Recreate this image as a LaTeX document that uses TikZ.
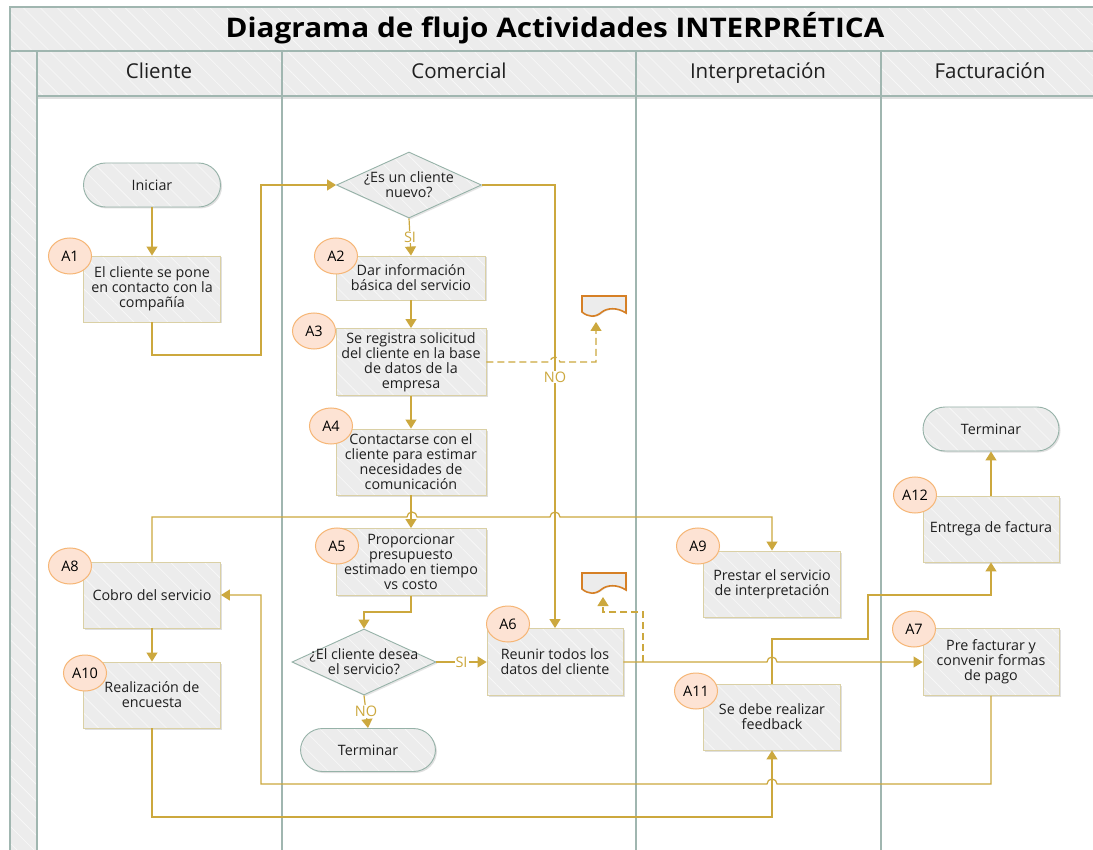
\documentclass[tikz,border=0pt]{standalone}
\usepackage{fontspec}
\setmainfont{Open Sans}
\newfontfamily\titlefont[FakeStretch=1.1]{Open Sans}
\usetikzlibrary{arrows.meta,shapes.geometric,shadows,patterns.meta}
\definecolor{gold}{RGB}{204,168,62}
\definecolor{laneline}{RGB}{160,182,176}
\definecolor{hdrfill}{RGB}{236,236,236}
\definecolor{boxfill}{RGB}{236,236,236}
\definecolor{boxline}{RGB}{218,208,165}
\definecolor{termline}{RGB}{150,178,168}
\definecolor{badgefill}{RGB}{253,227,212}
\definecolor{badgeline}{RGB}{246,182,118}
\definecolor{docline}{RGB}{214,128,38}
\tikzset{
  hatch/.style={preaction={fill=#1}, pattern={Lines[angle=-45,distance=12pt,line width=0.6pt]}, pattern color=white!70!#1},
  txt/.style={font=\fontsize{14.3}{15}\selectfont, align=center, text=black!88},
  stepbox/.style={txt, drop shadow={opacity=0.25, shadow xshift=1.5pt, shadow yshift=-1.5pt}, hatch=boxfill, draw=boxline, line width=0.9pt, minimum width=137pt, minimum height=66pt, inner sep=2pt},
  termbox/.style={txt, drop shadow={opacity=0.25, shadow xshift=1.5pt, shadow yshift=-1.5pt}, hatch=boxfill, draw=termline, line width=0.9pt, rounded corners=22pt, minimum width=137pt, minimum height=44pt},
  decbox/.style={diamond, drop shadow={opacity=0.2, shadow xshift=1.5pt, shadow yshift=-1.5pt}, hatch=boxfill, draw=termline, line width=0.9pt, minimum width=145pt, minimum height=66pt, inner sep=0pt},
  badge/.style={ellipse, fill=badgefill, draw=badgeline, line width=1pt, minimum width=43pt, minimum height=36pt, inner sep=0pt, font=\fontsize{14.5}{15}\selectfont},
  conn/.style={draw=gold, line width=1.2pt, -{Triangle[width=11pt,length=9pt]}},
  dashconn/.style={conn, dashed, dash pattern=on 7pt off 4pt},
  lbl/.style={fill=white, text=gold, inner sep=1pt, font=\fontsize{14.5}{15}\selectfont},
  docshape/.style={draw=docline, line width=1.6pt, fill=boxfill, drop shadow={opacity=0.2, shadow xshift=1pt, shadow yshift=-1pt}},
  lanehdr/.style={font=\fontsize{20.5}{22}\selectfont, text=black!88, anchor=base},
}
\begin{document}
\begin{tikzpicture}[x=1pt,y=-1pt]
\useasboundingbox (0,0) rectangle (1093,850);
\clip (0,0) rectangle (1093,850);
\fill[white] (0,0) rectangle (1093,850);
% frame
\path[hatch=hdrfill, draw=laneline, line width=1.2pt] (10,7) rectangle (1110,51);
\path[hatch=hdrfill, draw=laneline, line width=1.2pt] (10,51) rectangle (37,870);
\fill[black, opacity=0.12] (37,96) rectangle (1110,99);
\path[hatch=hdrfill, draw=laneline, line width=1.2pt] (37,51) rectangle (1110,96);
\foreach \xx in {37,282,636,881} \draw[laneline, line width=1.5pt] (\xx,51) -- (\xx,870);
\node[font=\titlefont\fontsize{27}{30}\selectfont\bfseries, anchor=base] (title) at (555,38) {Diagrama de flujo Actividades INTERPRÉTICA};
\node[lanehdr] (h1) at (159,79) {Cliente};
\node[lanehdr] (h2) at (459,79) {Comercial};
\node[lanehdr] (h3) at (758,79) {Interpretación};
\node[lanehdr] (h4) at (990,79) {Facturación};

% nodes
\node[termbox] (S) at (152,185) {Iniciar};
\node[stepbox] (A1) at (152,289) {El cliente se pone\\en contacto con la\\compañía};
\node[decbox] (D1) at (409,185) {};
\node[txt] (D1t) at (D1) {¿Es un cliente\\nuevo?};
\node[stepbox, minimum width=149pt, minimum height=44pt] (A2) at (411,278) {Dar información\\básica del servicio};
\node[stepbox, minimum width=150pt, minimum height=67pt] (A3) at (411,362) {Se registra solicitud\\del cliente en la base\\de datos de la\\empresa};
\node[stepbox, minimum width=150pt, minimum height=66pt] (A4) at (411,462) {Contactarse con el\\cliente para estimar\\necesidades de\\comunicación};
\node[stepbox, minimum width=150pt, minimum height=67pt] (A5) at (411,562) {Proporcionar\\presupuesto\\estimado en tiempo\\vs costo};
\node[decbox, minimum width=144pt] (D2) at (364,662) {};
\node[txt] (D2t) at (D2) {¿El cliente desea\\el servicio?};
\node[termbox, minimum width=135pt, minimum height=43pt] (T2) at (368,750) {Terminar};
\node[stepbox, minimum width=136pt, minimum height=67pt] (A6) at (555,662) {Reunir todos los\\datos del cliente};
\node[stepbox] (A8) at (152,595) {Cobro del servicio};
\node[stepbox] (A10) at (152,695) {Realización de\\encuesta};
\node[stepbox] (A9) at (772,584) {Prestar el servicio\\de interpretación};
\node[stepbox] (A11) at (772,717) {Se debe realizar\\feedback};
\node[stepbox, minimum width=136pt, minimum height=67pt] (A7) at (991,662) {Pre facturar y\\convenir formas\\de pago};
\node[stepbox, minimum width=136pt] (A12) at (991,529) {Entrega de factura};
\node[termbox, minimum width=136pt] (T3) at (991,429) {Terminar};

% badges
\node[badge] (b1) at (70,256) {A1};
\node[badge] (b2) at (336,256) {A2};
\node[badge] (b3) at (314,331) {A3};
\node[badge] (b4) at (331,426) {A4};
\node[badge] (b5) at (337,546) {A5};
\node[badge] (b6) at (508,624) {A6};
\node[badge] (b7) at (914,629) {A7};
\node[badge] (b8) at (70,566) {A8};
\node[badge] (b9) at (698,546) {A9};
\node[badge] (b10) at (85,673) {A10};
\node[badge] (b11) at (696,691) {A11};
\node[badge] (b12) at (915,495) {A12};

% documents
\path[docshape] (582,296) -- (626,296) -- (626,313) .. controls (617,307) and (607,308) .. (602,312) .. controls (595,318) and (588,317) .. (582,312) -- cycle;
\coordinate (doc1) at (596,322);
\path[docshape] (582,573) -- (626,573) -- (626,590) .. controls (617,584) and (607,585) .. (602,589) .. controls (595,595) and (588,594) .. (582,589) -- cycle;
\coordinate (doc2) at (603,597);

% connectors
\draw[conn] (S.south) -- (A1.north);
\draw[conn] (A1.south) |- (261,355) |- (D1.west);
\draw[conn] (D1.south) -- node[lbl] (si1) {SI} (A2.north);
\draw[conn] (A2.south) -- (A3.north);
\draw[conn] (A3.south) -- (A4.north);
\draw[conn] (A4.south) -- (A5.north);
\draw[conn] (D1.east) -| (A6.north);
\node[lbl] (no1) at (555,377) {NO};
\draw[dashconn] (A3.east) -- (550,362) arc[start angle=180, end angle=360, radius=5] -- (596,362) -- (doc1);
\draw[conn] (A5.south) -- (411,612) -| (D2.north);
\draw[conn] (D2.east) -- node[lbl] (si2) {SI} (A6.west);
\draw[conn] (D2.south) -- node[lbl] (no2) {NO} (T2.north);
\coordinate (split) at (643,662);
\draw[conn] (A6.east) -- (767,662) arc[start angle=180, end angle=360, radius=5] -- (A7.west);
\draw[dashconn] (split) -- (643,612) -- (603,612) -- (doc2);
\draw[conn] (A8.north) |- (407,517) arc[start angle=180, end angle=360, radius=5] -- (550,517) arc[start angle=180, end angle=360, radius=5] -| (A9.north);
\draw[conn] (A7.south) |- (777,784) arc[start angle=0, end angle=-180, radius=5] -- (261,784) |- (A8.east);
\draw[conn] (A8.south) -- (A10.north);
\draw[conn] (A10.south) -- (152,817) -| (A11.south);
\draw[conn] (A11.north) |- (868,639) -- (868,595) -| (A12.south);
\draw[conn] (A12.north) -- (T3.south);
\end{tikzpicture}
\end{document}
